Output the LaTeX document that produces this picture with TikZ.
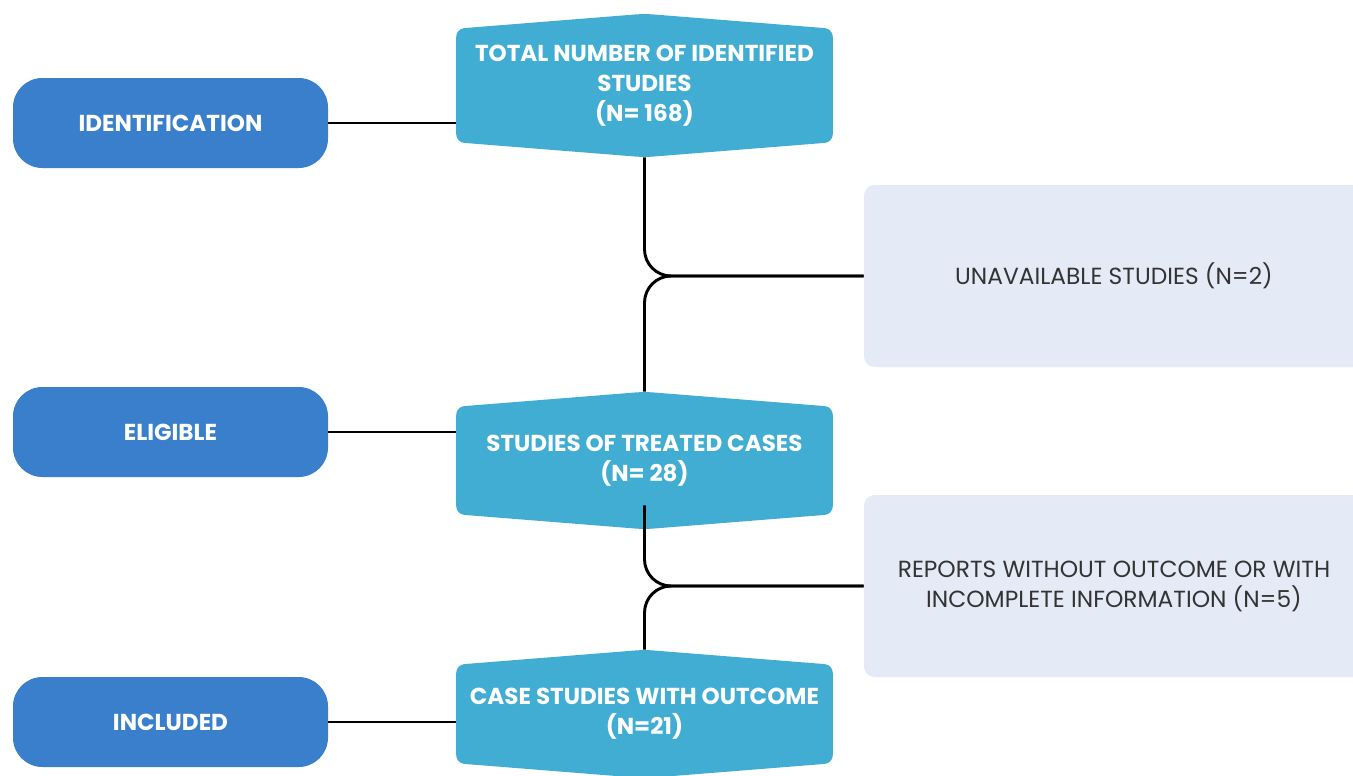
\documentclass[tikz,border=0pt]{standalone}
\usepackage{fontspec}
\setmainfont{Poppins}
\usetikzlibrary{backgrounds}
\definecolor{phaseblue}{HTML}{3A7FCB}
\definecolor{stageblue}{HTML}{42ADD3}
\definecolor{exclfill}{HTML}{E4EBF7}
\definecolor{excltext}{HTML}{333333}
\tikzset{
  phasebox/.style={fill=phaseblue,rounded corners=22pt,minimum width=236.25pt,minimum height=67.5pt,
    text=white,font=\bfseries\fontsize{17.3}{18}\selectfont},
  stagebox/.style={minimum width=282pt,text=white,align=center,font=\bfseries\fontsize{17.3}{22.5}\selectfont},
  exclbox/.style={fill=exclfill,rounded corners=8pt,minimum width=375pt,minimum height=136.5pt,
    text=excltext,align=center,font=\fontsize{17.5}{22.5}\selectfont},
  link/.style={line width=2.2pt,black}
}

\begin{document}
\begin{tikzpicture}[x=0.75pt,y=-0.75pt]
  \clip (0,0) rectangle (1353,775);
  % phases on the left
  \node[phasebox] (ident) at (170.5,123) {IDENTIFICATION};
  \node[phasebox] (elig) at (170.5,432) {ELIGIBLE};
  \node[phasebox] (incl) at (170.5,722) {INCLUDED};
  % stages in the middle
  \node[stagebox,minimum height=107.25pt] (total) at (644.5,85.5) {TOTAL NUMBER OF IDENTIFIED\\STUDIES\\(N= 168)};
  \node[stagebox,minimum height=102.75pt] (treated) at (644.5,460.5) {STUDIES OF TREATED CASES\\(N= 28)};
  \node[stagebox,minimum height=96pt] (outcome) at (644.5,714) {CASE STUDIES WITH OUTCOME\\(N=21)};
  % exclusions on the right
  \node[exclbox] (unavail) at (1114,276) {UNAVAILABLE STUDIES (N=2)};
  \node[exclbox] (reports) at (1114,586) {REPORTS WITHOUT OUTCOME OR WITH\\INCOMPLETE INFORMATION (N=5)};
  \begin{scope}[on background layer]
    \foreach \n in {total,treated,outcome}
      \fill[stageblue,rounded corners=6pt] ([yshift=-11.25pt]\n.north west) -- (\n.north)
        -- ([yshift=-11.25pt]\n.north east) -- ([yshift=11.25pt]\n.south east) -- (\n.south)
        -- ([yshift=11.25pt]\n.south west) -- cycle;
  \end{scope}
  % connectors
  \draw[link] (ident.east) -- (ident.east -| total.west);
  \draw[link] (elig.east) -- (elig.east -| treated.west);
  \draw[link] (incl.east) -- (incl.east -| outcome.west);
  \draw[link,rounded corners=20pt] (total.south) |- (unavail.west);
  \draw[link,rounded corners=20pt] (treated.north) |- (unavail.west);
  \draw[link,rounded corners=20pt] ([yshift=18pt]treated.south) |- (reports.west);
  \draw[link,rounded corners=20pt] (outcome.north) |- (reports.west);
\end{tikzpicture}
\end{document}
